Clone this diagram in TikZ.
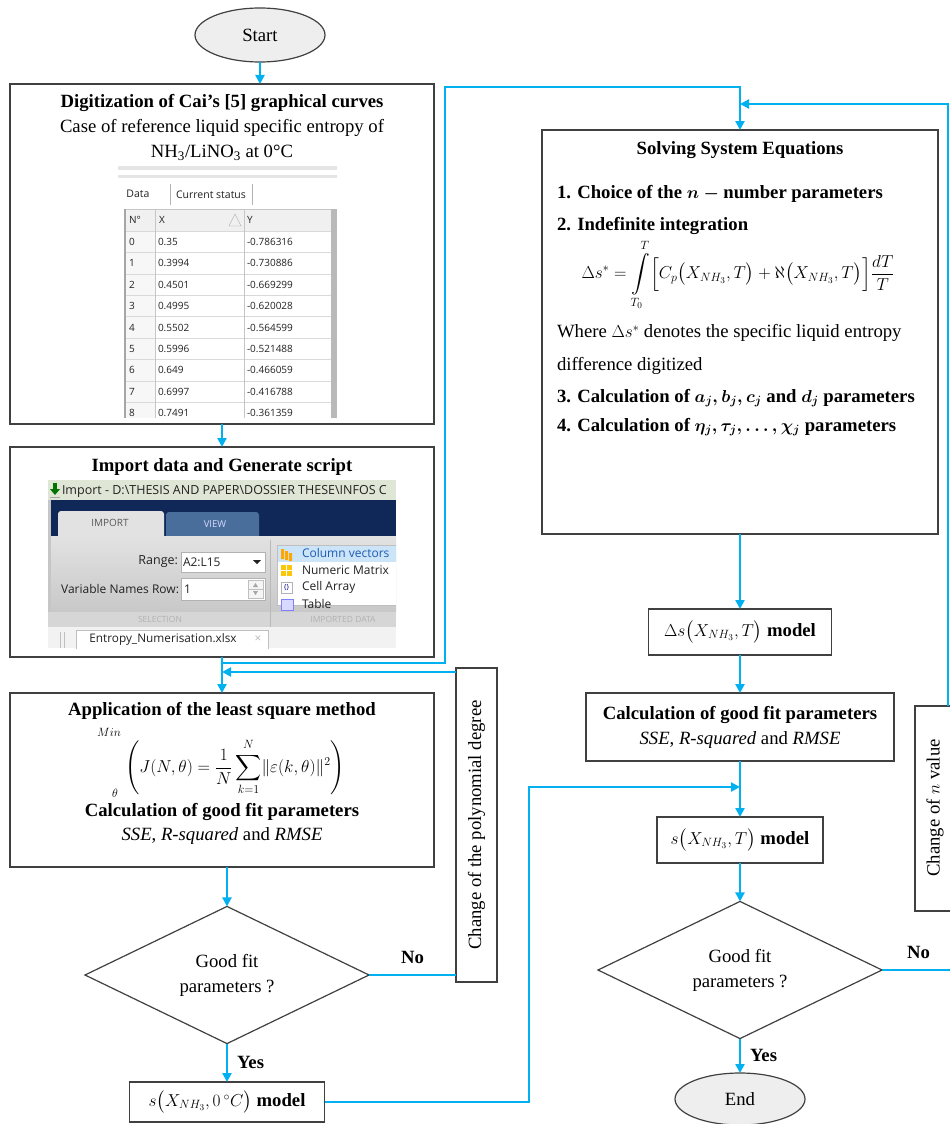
\documentclass[tikz,border=0pt]{standalone}
\usepackage{amsmath,amssymb}
\usepackage{fontspec}
\setmainfont{Liberation Serif}
\newfontfamily\uifont{Open Sans}
\usepackage{xcolor}
\usepackage{tikz}
\usetikzlibrary{positioning,arrows.meta,shapes.geometric}

\definecolor{flowblue}{RGB}{0,176,240}
\definecolor{boxgray}{RGB}{64,64,64}
\definecolor{termgray}{RGB}{238,238,238}
\definecolor{uitext}{RGB}{34,34,34}
\definecolor{wintitle}{RGB}{224,230,214}
\definecolor{ribbonnavy}{RGB}{16,40,88}
\definecolor{viewtab}{RGB}{74,110,156}
\definecolor{tabgray}{RGB}{226,226,226}
\definecolor{ribbonlight}{RGB}{226,226,226}
\definecolor{ribbondark}{RGB}{200,200,200}
\definecolor{hlblue}{RGB}{204,228,247}
\definecolor{listblue}{RGB}{30,90,180}

\begin{document}
\begin{tikzpicture}[x=1pt, y=-1pt,
  every node/.style={font=\fontsize{18.7}{25}\selectfont, inner sep=0pt, outer sep=0pt},
  box/.style={draw=boxgray, line width=1.3pt, fill=white, align=center},
  term/.style={ellipse, draw=boxgray, line width=1.2pt, fill=termgray, minimum width=130pt, minimum height=54pt},
  decision/.style={diamond, draw=boxgray, line width=1.2pt, fill=white, align=center, minimum width=284pt, minimum height=135pt},
  head/.style={font=\fontsize{18.7}{25}\selectfont\bfseries},
  item/.style={font=\fontsize{18.7}{25}\selectfont\bfseries\boldmath, anchor=west},
  ui/.style={font=\uifont\fontsize{#1}{#1}\selectfont, text=uitext},
  ui/.default=10,
  arr/.style={draw=flowblue, line width=2.4pt, -{Triangle[length=9pt,width=9pt]}},
  flow/.style={draw=flowblue, line width=2.4pt}]
\useasboundingbox (0,0) rectangle (950,1124);

% left column
\node[term] (start) at (260,35) {Start};
\node[box, minimum width=424pt, minimum height=340pt] (digit) at (222,254) {};
\node[head] (digitT) at (222,103) {Digitization of Cai’s [5] graphical curves};
\node (digitA) at (222,128) {Case of reference liquid specific entropy of};
\node (digitB) at (222,153) {NH\textsubscript{3}/LiNO\textsubscript{3} at 0°C};

% digitized table
\begin{scope}
  \clip (118,166) rectangle (337,417);
  \fill[gray!20] (118,166) rectangle (337,170);
  \fill[gray!20] (118,175) rectangle (337,178);
  \draw[gray!60] (170,184) -- (170,205) (252,184) -- (252,205);
  \node[ui=10.5] (tabdata) at (138,194) {Data};
  \node[ui=10.5] (tabstat) at (211,195) {Current status};
  \fill[gray!12] (125,209) rectangle (331,231);
  \fill[gray!6] (125,231) rectangle (155,420);
  \foreach \k in {0,...,9} \draw[gray!30] (125,{231+21.4*\k}) -- (331,{231+21.4*\k});
  \draw[gray!45] (125,209) -- (331,209) (155,209) -- (155,420) (244,209) -- (244,420);
  \draw[gray!70, line width=1.2pt] (125,209) -- (125,420);
  \fill[gray!55] (331,209) rectangle (337,420);
  \node[ui, anchor=west] (hn) at (129,220) {N°};
  \node[ui, anchor=west] (hx) at (159,220) {X};
  \draw[gray!70] (229,226) -- (235,214) -- (241,226) -- cycle;
  \node[ui, anchor=west] (hy) at (247,220) {Y};
  \foreach \xv/\yv [count=\n from 0] in {0.35/-0.786316, 0.3994/-0.730886, 0.4501/-0.669299,
      0.4995/-0.620028, 0.5502/-0.564599, 0.5996/-0.521488, 0.649/-0.466059,
      0.6997/-0.416788, 0.7491/-0.361359} {
    \node[ui, anchor=west] (rn\n) at (129,{242+21.4*\n}) {\n};
    \node[ui, anchor=west] (rx\n) at (158,{242+21.4*\n}) {\xv};
    \node[ui, anchor=west] (ry\n) at (247,{242+21.4*\n}) {\yv};
  }
\end{scope}

\node[box, minimum width=424pt, minimum height=210pt] (import) at (222,552) {};
\node[head] (importT) at (222,467) {Import data and Generate script};

% import window
\begin{scope}
  \clip (48,480) rectangle (396,648);
  \fill[wintitle] (48,480) rectangle (396,500);
  \fill[green!45!black] (53,483) rectangle (57,490);
  \fill[green!45!black] (50,489) -- (60,489) -- (55,495) -- cycle;
  \draw[gray!70] (50,497) -- (60,497);
  \node[ui=12.5, anchor=west] (wtitle) at (62,491) {Import - D:\textbackslash THESIS AND PAPER\textbackslash DOSSIER THESE\textbackslash INFOS C};
  \fill[ribbonnavy] (48,500) rectangle (396,536);
  \fill[tabgray, rounded corners=3pt] (58,540) -- (58,511) -- (164,511) -- (164,540) -- cycle;
  \fill[viewtab, rounded corners=3pt] (166,540) -- (166,512) -- (259,512) -- (259,540) -- cycle;
  \node[ui=10, text=gray!70!black] (tabimp) at (110,523) {IMPORT};
  \node[ui=9.5, text=white!85!blue] (tabview) at (215,524) {VIEW};
  \shade[top color=ribbonlight, bottom color=ribbondark] (48,536) rectangle (396,612);
  \fill[gray!45] (48,500) rectangle (51,648);
  \node[ui=12.5, anchor=east] (rangelbl) at (178,562) {Range:};
  \draw[gray!60, fill=white] (181,552) rectangle (265,572);
  \node[ui=12, anchor=west] (rangeval) at (183,562) {A2:L15};
  \fill[uitext] (253,560) -- (261,560) -- (257,564) -- cycle;
  \node[ui=12, anchor=east] (varlbl) at (179,589) {Variable Names Row:};
  \draw[gray!60, fill=white] (181,578) rectangle (265,600);
  \node[ui=12, anchor=west] (varval) at (184,589) {1};
  \draw[gray!50, fill=gray!8] (248,580) rectangle (263,598);
  \draw[gray!50] (248,589) -- (263,589);
  \fill[gray!70] (253,587) -- (258,587) -- (255.5,583) -- cycle;
  \fill[gray!70] (253,591) -- (258,591) -- (255.5,595) -- cycle;
  \draw[gray!55] (270,540) -- (270,627);
  \draw[gray!50, fill=white] (277,545) rectangle (400,605);
  \fill[hlblue] (278,546) rectangle (400,562);
  \fill[orange!70!yellow] (281,549) rectangle (284,559) (285,551) rectangle (288,560) (289,553) rectangle (292,561);
  \fill[yellow!60!orange] (281,565) rectangle (292,576);
  \draw[white, line width=0.8pt] (286.5,565) -- (286.5,576) (281,570.5) -- (292,570.5);
  \draw[gray!60, fill=white] (281,582) rectangle (292,593);
  \node[ui=7, text=blue!60!black] (cellicon) at (286.5,587.5) {\{\}};
  \draw[blue!50, fill=blue!15] (281,599) rectangle (293,610);
  \node[ui=12, anchor=west, text=listblue] (lcol) at (302,553) {Column vectors};
  \node[ui=12, anchor=west] (lnum) at (302,570) {Numeric Matrix};
  \node[ui=12, anchor=west] (lcell) at (302,587) {Cell Array};
  \node[ui=12, anchor=west] (ltab) at (302,604) {Table};
  \fill[gray!32] (48,612) rectangle (396,627);
  \draw[gray!55] (270,612) -- (270,627);
  \node[ui=8.5, text=gray!60] (selbl) at (160,619.5) {SELECTION};
  \node[ui=8.5, text=gray!60] (implbl) at (343,619.5) {IMPORTED DATA};
  \fill[gray!10] (48,627) rectangle (396,648);
  \draw[gray!50, fill=white] (76,649) -- (76,630) -- (268,630) -- (268,649);
  \draw[gray!50] (60,632) -- (60,648) (64,632) -- (64,648);
  \node[ui=11.8] (ftab) at (163,639) {Entropy\_Numerisation.xlsx};
  \node[ui=11.8, text=gray!55] (fclose) at (258,639) {×};
\end{scope}

\node[box, minimum width=424pt, minimum height=174pt] (lsq) at (222,780) {};
\node[head] (lsqT) at (222,711) {Application of the least square method};
\node (lsqMin) at (109,732) {\fontsize{12}{14}\selectfont$Min$};
\node[font=\fontsize{18}{24}\selectfont] (lsqEq) at (235,767) {$\displaystyle\left(J(N,\theta)=\frac{1}{N}\sum_{k=1}^{\rule[-3pt]{0pt}{0pt}N}\lVert\varepsilon(k,\theta)\rVert^{2}\right)$};
\node (lsqTh) at (115,793) {\fontsize{12}{14}\selectfont$\theta$};
\node[head] (lsqC) at (222,812) {Calculation of good fit parameters};
\node (lsqS) at (222,836) {\textit{SSE}, \textit{R-squared} and \textit{RMSE}};

\node[decision] (fit1) at (227,975) {Good fit\\parameters ?};
\node[box, minimum width=195pt, minimum height=40pt] (szero) at (227,1102) {$s\bigl(X_{NH_3},0\,{}^{\circ}C\bigr)$ \textbf{model}};
\node[box, minimum width=41pt, minimum height=314pt] (chdeg) at (476.5,825) {};
\node[rotate=90] (chdegT) at (476.5,825) {Change of the polynomial degree};

% right column
\node[box, minimum width=396pt, minimum height=404pt] (solve) at (740,332) {};
\node[head] (solveT) at (740,150) {Solving System Equations};
\node[item] (solve1) at (557,194) {1. Choice of the $n - {}$number parameters};
\node[item] (solve2) at (557,226) {2. Indefinite integration};
\node (solveEq) at (738,275) {$\displaystyle \Delta s^{*}=\int\limits_{T_0}^{T}\Bigl[C_p\bigl(X_{NH_3},T\bigr)+\aleph\bigl(X_{NH_3},T\bigr)\Bigr]\frac{dT}{T}$};
\node[anchor=west] (solveW) at (557,333) {Where $\Delta s^{*}$ denotes the specific liquid entropy};
\node[anchor=west] (solveD) at (557,366) {difference digitized};
\node[item] (solve3) at (557,398) {3. Calculation of $a_j, b_j, c_j$ and $d_j$ parameters};
\node[item] (solve4) at (557,427) {4. Calculation of $\eta_j, \tau_j, \dots, \chi_j$ parameters};

\node[box, minimum width=183pt, minimum height=46pt] (dsmod) at (740,632) {$\Delta s\bigl(X_{NH_3},T\bigr)$ \textbf{model}};
\node[box, minimum width=308pt, minimum height=68pt] (calc) at (740,727) {\textbf{Calculation of good fit parameters}\\\textit{SSE}, \textit{R-squared} and \textit{RMSE}};
\node[box, minimum width=166pt, minimum height=46pt] (smod) at (740,840) {$s\bigl(X_{NH_3},T\bigr)$ \textbf{model}};
\node[decision] (fit2) at (740,970) {Good fit\\parameters ?};
\node[term, minimum height=52pt] (finish) at (740,1099) {End};
\node[box, minimum width=45pt, minimum height=205pt] (chn) at (937.5,808.5) {};
\node[rotate=90] (chnT) at (935,808) {Change of $n$ value};

% connectors
\coordinate (split1) at (222,663);
\coordinate (loopA) at (445,87);
\coordinate (loopB) at (529,787);
\coordinate (loopC) at (948,104);
\coordinate (noend) at (955,970);
\draw[arr] (start.south) -- (start.south |- digit.north);
\draw[arr] (digit) -- (import);
\draw[arr] (import) -- (lsq);
\draw[arr] (split1) -| (loopA) -| (solve.north);
\draw[arr] ([yshift=-4pt]chdeg.north west) -- ([yshift=-4pt]chdeg.north west -| import.south);
\draw[arr] (lsq.south -| fit1.north) -- (fit1.north);
\draw[flow] (fit1.east) -- node[head, above=11pt] (no1) {No} (fit1.east -| chdeg.west);
\draw[arr] (fit1) -- node[head, right=10pt] (yes1) {Yes} (szero);
\draw[arr] (szero.east) -| (loopB) -- (loopB -| smod.north);
\draw[arr] (solve) -- (dsmod);
\draw[arr] (dsmod) -- (calc);
\draw[arr] (calc) -- (smod);
\draw[arr] (smod) -- (fit2);
\draw[arr] (fit2) -- node[head, right=10pt] (yes2) {Yes} (finish);
\draw[flow] (fit2.east) -- node[head, above=11pt] (no2) {No} (noend);
\draw[arr] (chn.north -| loopC) -- (loopC) -- (loopC -| solve.north);
\end{tikzpicture}
\end{document}
